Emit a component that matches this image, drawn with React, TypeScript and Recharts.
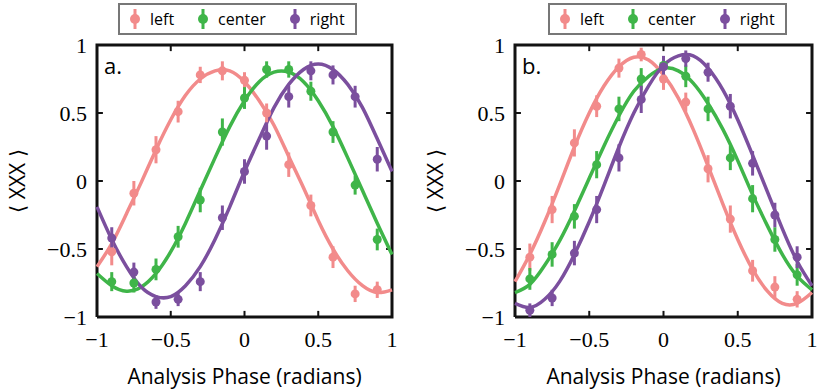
import { ComposedChart, Line, Scatter, ErrorBar, XAxis, YAxis, Legend, Label } from 'recharts'

const phase = [-0.9, -0.75, -0.6, -0.45, -0.3, -0.15, 0, 0.15, 0.3, 0.45, 0.6, 0.75, 0.9]
const fitPhase = [-1, -0.9, -0.8, -0.7, -0.6, -0.5, -0.4, -0.3, -0.2, -0.1, 0, 0.1, 0.2, 0.3, 0.4, 0.5, 0.6, 0.7, 0.8, 0.9, 1]
const ticks = [-1, -0.5, 0, 0.5, 1]
const innerTicks = [-0.5, 0, 0.5]

// panel a
const leftA = [-0.52, -0.09, 0.23, 0.51, 0.78, 0.81, 0.74, 0.5, 0.12, -0.18, -0.56, -0.83, -0.8]
const leftAErr = [0.1, 0.09, 0.1, 0.08, 0.06, 0.07, 0.06, 0.07, 0.09, 0.08, 0.08, 0.06, 0.06]
const centerA = [-0.74, -0.75, -0.65, -0.41, -0.14, 0.36, 0.61, 0.82, 0.82, 0.66, 0.36, -0.03, -0.43]
const centerAErr = [0.07, 0.07, 0.08, 0.08, 0.09, 0.1, 0.08, 0.06, 0.06, 0.07, 0.08, 0.07, 0.08]
const rightA = [-0.42, -0.67, -0.89, -0.87, -0.74, -0.27, 0.07, 0.33, 0.62, 0.81, 0.78, 0.62, 0.16]
const rightAErr = [0.08, 0.07, 0.05, 0.05, 0.07, 0.09, 0.09, 0.1, 0.08, 0.07, 0.07, 0.08, 0.09]
const leftAFit = [-0.63, -0.46, -0.24, -0.01, 0.23, 0.45, 0.63, 0.75, 0.81, 0.81, 0.73, 0.59, 0.41, 0.18, -0.05, -0.29, -0.5, -0.66, -0.77, -0.82, -0.8]
const centerAFit = [-0.68, -0.77, -0.81, -0.78, -0.68, -0.52, -0.31, -0.07, 0.17, 0.4, 0.59, 0.73, 0.8, 0.8, 0.73, 0.59, 0.4, 0.17, -0.07, -0.31, -0.54]
const rightAFit = [-0.19, -0.43, -0.63, -0.78, -0.85, -0.85, -0.77, -0.63, -0.43, -0.19, 0.07, 0.31, 0.54, 0.71, 0.82, 0.86, 0.82, 0.71, 0.54, 0.31, 0.07]

// panel b
const leftB = [-0.56, -0.21, 0.28, 0.55, 0.83, 0.93, 0.75, 0.58, 0.09, -0.28, -0.66, -0.78, -0.87]
const leftBErr = [0.1, 0.1, 0.1, 0.08, 0.07, 0.05, 0.08, 0.07, 0.1, 0.1, 0.08, 0.08, 0.06]
const centerB = [-0.72, -0.54, -0.26, 0.12, 0.53, 0.75, 0.85, 0.77, 0.53, 0.17, -0.13, -0.43, -0.69]
const centerBErr = [0.08, 0.09, 0.09, 0.1, 0.09, 0.08, 0.06, 0.08, 0.09, 0.09, 0.1, 0.09, 0.08]
const rightB = [-0.95, -0.86, -0.53, -0.21, 0.17, 0.6, 0.84, 0.9, 0.8, 0.55, 0.13, -0.25, -0.56]
const rightBErr = [0.05, 0.06, 0.09, 0.1, 0.1, 0.1, 0.08, 0.06, 0.07, 0.09, 0.09, 0.09, 0.08]
const leftBFit = [-0.74, -0.54, -0.3, -0.03, 0.25, 0.5, 0.7, 0.84, 0.91, 0.89, 0.78, 0.61, 0.38, 0.11, -0.17, -0.43, -0.65, -0.81, -0.9, -0.9, -0.82]
const centerBFit = [-0.82, -0.76, -0.62, -0.44, -0.22, 0.02, 0.26, 0.48, 0.66, 0.77, 0.83, 0.81, 0.72, 0.57, 0.38, 0.15, -0.1, -0.33, -0.54, -0.7, -0.8]
const rightBFit = [-0.9, -0.93, -0.87, -0.74, -0.54, -0.3, -0.03, 0.25, 0.5, 0.7, 0.85, 0.92, 0.92, 0.83, 0.67, 0.45, 0.19, -0.08, -0.35, -0.59, -0.77]

// plot frame (corner points) drawn through the chart scales
const frameX = [-1, 1, 1, -1, -1]
const frameY = [-1, -1, 1, 1, -1]

const seriesNames = ['left', 'center', 'right']
const colors = ['#f28b8b', '#3fb549', '#7b4f9e']

const sans = '"Open Sans", sans-serif'
const serif = '"Liberation Serif", "DejaVu Serif", serif'

const fmt = (v: number) => (v < 0 ? '\u2212' + Math.abs(v) : String(v))

type Series = { pts: number[]; err: number[]; fit: number[] }

// short inward tick marks on all four sides
const tickSegments = [
  ...innerTicks.map((t) => [{ x: t, y: -1 }, { x: t, y: -0.955 }]),
  ...innerTicks.map((t) => [{ x: t, y: 1 }, { x: t, y: 0.955 }]),
  ...innerTicks.map((t) => [{ x: -1, y: t }, { x: -0.96, y: t }]),
  ...innerTicks.map((t) => [{ x: 1, y: t }, { x: 0.96, y: t }]),
]

function LegendBox() {
  return (
    <div
      style={{
        display: 'flex',
        alignItems: 'center',
        border: '2px solid #777',
        background: '#fff',
        padding: '2px 10px 2px 8px',
        fontFamily: sans,
        fontSize: 16,
        height: 24,
        boxSizing: 'content-box',
      }}
    >
      {seriesNames.map((n, i) => (
        <div key={n} style={{ display: 'flex', alignItems: 'center', marginRight: i < 2 ? 22 : 0 }}>
          <svg width={14} height={22} style={{ marginRight: 8 }}>
            <line x1={7} y1={1} x2={7} y2={21} stroke={colors[i]} strokeWidth={3} />
            <circle cx={7} cy={11} r={5} fill={colors[i]} />
          </svg>
          <span>{n}</span>
        </div>
      ))}
    </div>
  )
}

const XTick = (p: any) => (
  <text x={p.x} y={p.y} dy="0.71em" textAnchor="middle" fontFamily={serif} fontSize={22} fill="#000">
    {fmt(p.payload.value)}
  </text>
)

const YTick = (p: any) => (
  <text x={p.x} y={p.y} dy="0.36em" textAnchor="end" fontFamily={serif} fontSize={22} fill="#000">
    {fmt(p.payload.value)}
  </text>
)

function Panel({ letter, series, width, marginRight, legendLeft, ink }: { letter: string; series: Series[]; width: number; marginRight: number; legendLeft: number; ink: string }) {
  const tag = letter.replace('.', '')
  return (
    <ComposedChart id={'panel-' + tag} width={width} height={391} margin={{ top: 45, right: marginRight, left: 57, bottom: 44 }}>
      <XAxis
        type="number"
        dataKey="x"
        domain={[-1, 1]}
        ticks={ticks}
        height={30}
        axisLine={false}
        tickLine={false}
        tickSize={0}
        tickMargin={14}
        tick={XTick}
        interval={0}
      >
        <Label
          content={({ viewBox }: any) => (
            <text x={viewBox.x + viewBox.width / 2} y={viewBox.y + 67} textAnchor="middle" fontFamily={sans} fontSize={21} fill="#000">
              Analysis Phase (radians)
            </text>
          )}
        />
      </XAxis>
      <YAxis
        type="number"
        dataKey="y"
        domain={[-1, 1]}
        ticks={ticks}
        width={40}
        axisLine={false}
        tickLine={false}
        tickSize={0}
        tickMargin={10}
        tick={YTick}
        interval={0}
      >
        <Label
          content={({ viewBox }: any) => {
            const cx = viewBox.x - 40
            const cy = viewBox.y + viewBox.height / 2
            return (
              <text x={cx} y={cy} transform={`rotate(-90 ${cx} ${cy})`} textAnchor="middle" dominantBaseline="central" fontFamily={sans} fontSize={21} fill="#000">
                {'\u27e8 XXX \u27e9'}
              </text>
            )
          }}
        />
        <Label
          content={({ viewBox }: any) => (
            <text x={viewBox.x + viewBox.width + 7} y={viewBox.y + 29} fontFamily={sans} fontSize={22} fill="#000">
              {letter}
            </text>
          )}
        />
      </YAxis>
      <Legend
        layout="vertical"
        align="center"
        verticalAlign="middle"
        wrapperStyle={{ top: 3, left: legendLeft, width: 'auto', height: 'auto' }}
        content={() => <LegendBox />}
      />
      <Line
        id={'frame-' + tag}
        name={'frame-' + tag}
        data={frameX.map((x, j) => ({ x, y: frameY[j] }))}
        dataKey="y"
        type="linear"
        stroke={ink}
        strokeWidth={3}
        dot={false}
        isAnimationActive={false}
        legendType="none"
      />
      {tickSegments.map((seg, k) => (
        <Line
          key={'tick' + k}
          id={'tick-' + tag + '-' + k}
          name={'tick-' + tag + '-' + k}
          data={seg}
          dataKey="y"
          type="linear"
          stroke={ink}
          strokeWidth={2}
          dot={false}
          isAnimationActive={false}
          legendType="none"
        />
      ))}
      {series.map((s, i) => (
        <Line
          key={'fit' + i}
          id={'fit-' + tag + '-' + i}
          data={fitPhase.map((x, j) => ({ x, y: s.fit[j] }))}
          dataKey="y"
          type="natural"
          stroke={colors[i]}
          strokeWidth={3.5}
          dot={false}
          isAnimationActive={false}
          legendType="none"
        />
      ))}
      {series.map((s, i) => (
        <Scatter
          key={'pts' + i}
          id={'pts-' + tag + '-' + i}
          name={seriesNames[i]}
          data={phase.map((x, j) => ({ x, y: s.pts[j], err: s.err[j] }))}
          dataKey="y"
          fill={colors[i]}
          isAnimationActive={false}
          shape={(p: any) => <circle cx={p.cx} cy={p.cy} r={4.5} fill={colors[i]} />}
        >
          <ErrorBar dataKey="err" direction="y" width={0} stroke={colors[i]} strokeWidth={3} isAnimationActive={false} />
        </Scatter>
      ))}
    </ComposedChart>
  )
}

export default function App() {
  const seriesA: Series[] = [
    { pts: leftA, err: leftAErr, fit: leftAFit },
    { pts: centerA, err: centerAErr, fit: centerAFit },
    { pts: rightA, err: rightAErr, fit: rightAFit },
  ]
  const seriesB: Series[] = [
    { pts: leftB, err: leftBErr, fit: leftBFit },
    { pts: centerB, err: centerBErr, fit: centerBFit },
    { pts: rightB, err: rightBErr, fit: rightBFit },
  ]
  return (
    <div style={{ position: 'absolute', left: 0, top: 0, width: 831, height: 391, background: '#fff' }}>
      <div style={{ position: 'absolute', left: 0, top: 0 }}>
        <Panel letter="a." series={seriesA} width={415} marginRight={23} legendLeft={118} ink="#111111" />
      </div>
      <div style={{ position: 'absolute', left: 418, top: 0 }}>
        <Panel letter="b." series={seriesB} width={413} marginRight={19} legendLeft={130} ink="#131313" />
      </div>
    </div>
  )
}
